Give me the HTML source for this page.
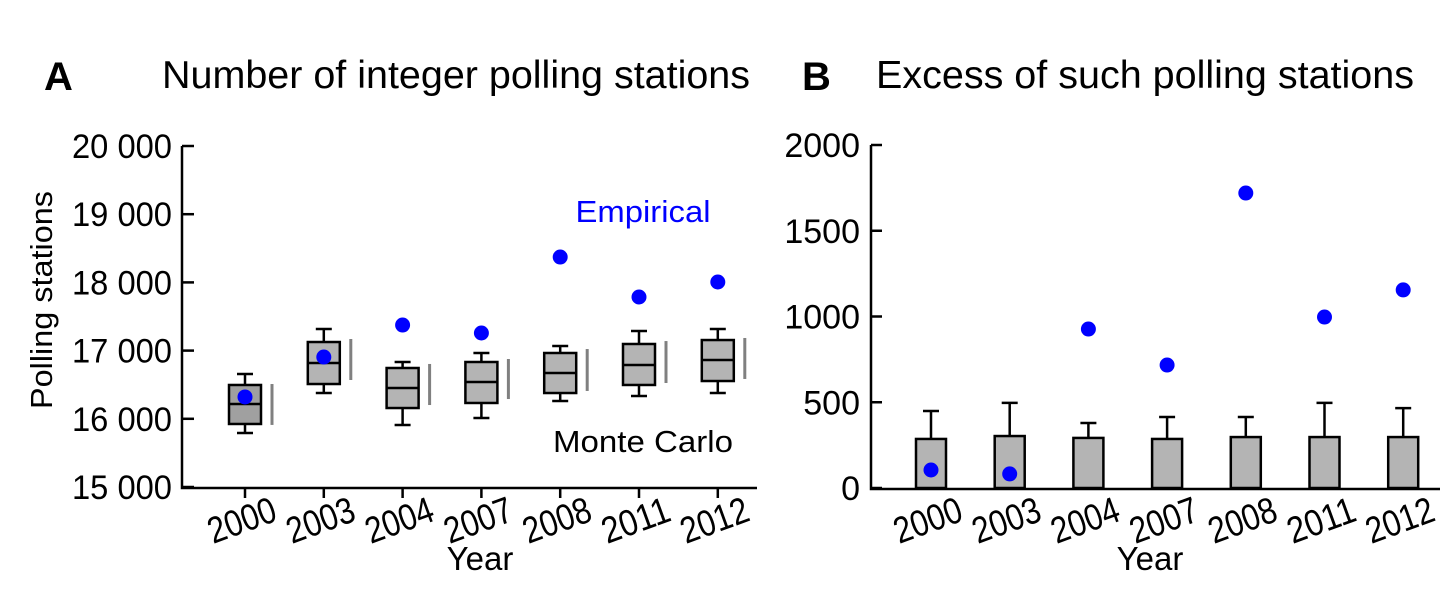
<!DOCTYPE html>
<html><head><meta charset="utf-8"><style>
body{margin:0;background:#fff}
svg{display:block;font-family:"Liberation Sans",Arial,sans-serif}
</style></head><body>
<svg id="c" width="1456" height="589" viewBox="0 0 1456 589">
<text x="44" y="90" font-size="40" font-weight="bold">A</text>
<text x="162" y="88" font-size="39" textLength="588" lengthAdjust="spacingAndGlyphs">Number of integer polling stations</text>
<text x="802" y="90" font-size="40" font-weight="bold">B</text>
<text x="876" y="88" font-size="39" textLength="538" lengthAdjust="spacingAndGlyphs">Excess of such polling stations</text>
<text transform="translate(52,300) rotate(-90)" text-anchor="middle" font-size="31" textLength="218" lengthAdjust="spacingAndGlyphs">Polling stations</text>
<text x="480" y="570" text-anchor="middle" font-size="33">Year</text>
<text x="1150" y="570" text-anchor="middle" font-size="33">Year</text>
<text x="643" y="222" text-anchor="middle" font-size="31" textLength="135" lengthAdjust="spacingAndGlyphs" fill="#0000ff">Empirical</text>
<text x="643" y="452" text-anchor="middle" font-size="31" textLength="180" lengthAdjust="spacingAndGlyphs">Monte Carlo</text>
<g id="ga"></g><g id="gb"></g>
</svg>
<script>
const years=['2000','2003','2004','2007','2008','2011','2012'];
const whiskerHigh=[16657,17317,16833,16965,17067,17287,17317];
const boxHigh=[16496,17126,16745,16833,16965,17097,17155];
const medians=[16217,16818,16452,16540,16672,16789,16862];
const boxLow=[15924,16510,16158,16232,16378,16496,16554];
const whiskerLow=[15792,16378,15909,16012,16261,16334,16378];
const rangeHigh=[16510,17170,16804,16877,17023,17140,17185];
const rangeLow=[15910,16569,16202,16290,16408,16525,16584];
const empiricalA=[16320,16906,17375,17258,18372,17786,18006];
const ticksA=[15000,16000,17000,18000,19000,20000];
const tickLabelsA=['15 000','16 000','17 000','18 000','19 000','20 000'];
const mcMean=[286,303,292,286,297,297,297];
const mcErr=[449,496,379,414,414,496,466];
const empiricalB=[105,82,927,717,1720,997,1155];
const ticksB=[0,500,1000,1500,2000];
const tickLabelsB=['0','500','1000','1500','2000'];

const NS='http://www.w3.org/2000/svg';
function mk(p,tag,at){const e=document.createElementNS(NS,tag);for(const k in at)e.setAttribute(k,at[k]);p.appendChild(e);return e;}
const ga=document.getElementById('ga'),gb=document.getElementById('gb');
const yA=v=>487-(v-15000)/5000*341;
const xA=i=>245+i*78.8;
const yB=v=>488-v/2000*343;
const xB=i=>931+i*78.7;

let e=mk(ga,'path',{d:'M182,146 V488 H757',fill:'none',stroke:'#000','stroke-width':2.5});

ticksA.forEach((t,i)=>{
 let l=mk(ga,'line',{x1:182,x2:194,y1:yA(t),y2:yA(t),stroke:'#000','stroke-width':2.5});
 
 let tx=mk(ga,'text',{x:172,y:yA(t)+12,'text-anchor':'end','font-size':34,textLength:100,lengthAdjust:'spacingAndGlyphs'});tx.textContent=tickLabelsA[i];
 
});
years.forEach((y,i)=>{
 const cx=xA(i),w=32;
 let t=mk(ga,'line',{x1:cx,x2:cx,y1:488,y2:498,stroke:'#000','stroke-width':2.5});
 
 let lb=mk(ga,'text',{transform:`translate(${cx+1},532) rotate(-20)`,'text-anchor':'middle','font-size':37,textLength:70,lengthAdjust:'spacingAndGlyphs'});lb.textContent=y;
 
 let g=mk(ga,'g',{});
 
 mk(g,'path',{d:`M${cx},${yA(whiskerHigh[i])} V${yA(boxHigh[i])} M${cx},${yA(boxLow[i])} V${yA(whiskerLow[i])} M${cx-8},${yA(whiskerHigh[i])} H${cx+8} M${cx-8},${yA(whiskerLow[i])} H${cx+8}`,stroke:'#000','stroke-width':2.5,fill:'none'});
 mk(g,'rect',{x:cx-w/2,y:yA(boxHigh[i]),width:w,height:yA(boxLow[i])-yA(boxHigh[i]),fill:i==0?'#a0a0a0':'#b4b4b4',stroke:'#000','stroke-width':2.5});
 mk(g,'line',{x1:cx-w/2,x2:cx+w/2,y1:yA(medians[i]),y2:yA(medians[i]),stroke:'#000','stroke-width':2.5});
 let r=mk(ga,'line',{x1:cx+27,x2:cx+27,y1:yA(rangeHigh[i]),y2:yA(rangeLow[i]),stroke:'#808080','stroke-width':3});
 
 let d=mk(ga,'circle',{cx:cx,cy:yA(empiricalA[i]),r:7.5,fill:'#0000ff'});
 
});

e=mk(gb,'path',{d:'M871,145 V489 H1440',fill:'none',stroke:'#000','stroke-width':2.5});

ticksB.forEach((t,i)=>{
 let l=mk(gb,'line',{x1:871,x2:882,y1:yB(t),y2:yB(t),stroke:'#000','stroke-width':2.5});
 
 let tx=mk(gb,'text',{x:860,y:yB(t)+12,'text-anchor':'end','font-size':34});tx.textContent=tickLabelsB[i];
 
});
years.forEach((y,i)=>{
 const cx=xB(i),w=30;
 let lb=mk(gb,'text',{transform:`translate(${cx+1},532) rotate(-20)`,'text-anchor':'middle','font-size':37,textLength:70,lengthAdjust:'spacingAndGlyphs'});lb.textContent=y;
 
 let er=mk(gb,'path',{d:`M${cx},${yB(mcMean[i])} V${yB(mcErr[i])} M${cx-8},${yB(mcErr[i])} H${cx+8}`,stroke:'#000','stroke-width':2.5,fill:'none'});
 
 let b=mk(gb,'rect',{x:cx-w/2,y:yB(mcMean[i]),width:w,height:yB(0)-yB(mcMean[i]),fill:'#b4b4b4',stroke:'#000','stroke-width':2.5});
 
 let d=mk(gb,'circle',{cx:cx,cy:yB(empiricalB[i]),r:7.5,fill:'#0000ff'});
 
});
</script>
</body></html>
